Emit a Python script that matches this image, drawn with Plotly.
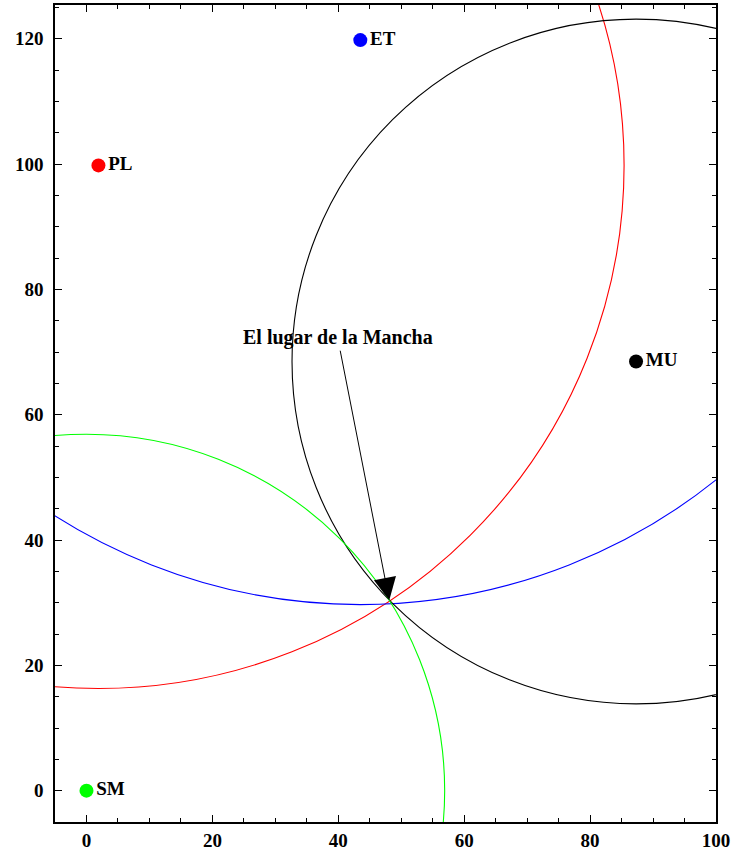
import plotly.graph_objects as go

# Towns and their distance circles
names = ["PL", "ET", "MU", "SM"]
xs = [1.9, 43.5, 87.3, 0.0]
ys = [99.8, 119.8, 68.5, 0.0]
radii = [83.5, 90.1, 54.65, 56.9]
colors = ["#ff0000", "#0000ff", "#000000", "#00ff00"]

# Annotated meeting point
target = (48.1, 30.4)
label_pos = (39.9, 72.3)
label_text = "El lugar de la Mancha"

serif = "Liberation Serif, Times New Roman, serif"

fig = go.Figure()

for n, x, y, c in zip(names, xs, ys, colors):
    fig.add_trace(go.Scatter(
        x=[x], y=[y], mode="markers+text",
        marker=dict(size=14, color=c),
        text=["<b>" + n + "</b>"], textposition="middle right",
        textfont=dict(family=serif, size=19, color="black"),
        showlegend=False, hoverinfo="skip", cliponaxis=False,
    ))

shapes = []
for x, y, r, c in zip(xs, ys, radii, colors):
    shapes.append(dict(
        type="circle", xref="x", yref="y",
        x0=x - r, x1=x + r, y0=y - r, y1=y + r,
        line=dict(color=c, width=1.1), layer="above",
    ))

fig.update_layout(
    width=733, height=852,
    margin=dict(l=55, r=17, t=5, b=30),
    plot_bgcolor="white", paper_bgcolor="white",
    shapes=shapes,
    showlegend=False,
    annotations=[dict(
        x=target[0], y=target[1], xref="x", yref="y",
        ax=label_pos[0], ay=label_pos[1], axref="x", ayref="y",
        text="<b>" + label_text + "</b>",
        font=dict(family=serif, size=20, color="black"),
        showarrow=True, arrowhead=2, arrowsize=4.5, arrowwidth=1,
        arrowcolor="black", standoff=0, startstandoff=0,
    )],
)

axis_common = dict(
    showgrid=False, zeroline=False, automargin=False,
    showline=True, linecolor="black", linewidth=1.5, mirror="ticks",
    ticks="inside", ticklen=7, tickwidth=1.2, tickcolor="black",
    tickfont=dict(family=serif, size=19, color="black", weight="bold"),
    minor=dict(dtick=5, ticks="inside", ticklen=4, tickwidth=1, tickcolor="black"),
)

fig.update_xaxes(range=[-5, 100], dtick=20, tick0=0, **axis_common)
fig.update_yaxes(range=[-5, 125.4], dtick=20, tick0=0, ticklabelstandoff=6, **axis_common)

fig.write_html("out.html")
